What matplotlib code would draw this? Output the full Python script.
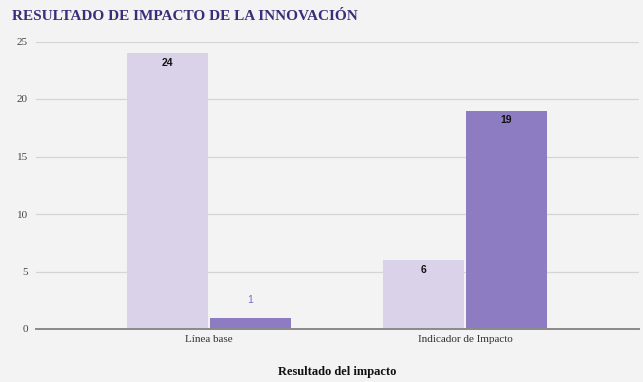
import matplotlib
matplotlib.use("Agg")
import matplotlib.pyplot as plt
import numpy as np

# data
CATEGORIES = ["Línea base", "Indicador de Impacto"]
SERIES_A = [24, 6]    # light bars
SERIES_B = [1, 19]    # dark bars
Y_TICKS = [0, 5, 10, 15, 20, 25]

BG = "#f3f3f3"
LIGHT = "#d9d2e9"
DARK = "#8e7cc3"
TITLE_COLOR = "#3b2d7a"

fig = plt.figure(figsize=(6.43, 3.82), dpi=100, facecolor=BG)
ax = fig.add_axes([36 / 643, 1 - 329 / 382, 603 / 643, 287.5 / 382])
ax.set_facecolor(BG)

x = np.arange(len(CATEGORIES))
w = 0.316
gap = 0.004
bars_a = ax.bar(x - w / 2 - gap, SERIES_A, w, color=LIGHT, zorder=2)
bars_b = ax.bar(x + w / 2 + gap, SERIES_B, w, color=DARK, zorder=2)

ax.set_xlim(-0.676, 1.68)
ax.set_ylim(0, 25)
ax.set_yticks(Y_TICKS)
ax.set_xticks(x)
ax.set_xticklabels(CATEGORIES, family="Liberation Serif", fontsize=8, color="#333333")
for lab in ax.get_yticklabels():
    lab.set_family("Liberation Serif")
    lab.set_fontsize(8)
    lab.set_color("#444444")
ax.tick_params(length=0, pad=4)
ax.tick_params(axis="y", pad=6)

ax.grid(axis="y", color="#d4d4d4", linewidth=0.9, zorder=0)
for side in ("top", "right", "left"):
    ax.spines[side].set_visible(False)
ax.spines["bottom"].set_color("#8a8a8a")
ax.spines["bottom"].set_linewidth(1.4)
ax.spines["bottom"].set_zorder(3)

# value labels
for bars, vals in ((bars_a, SERIES_A), (bars_b, SERIES_B)):
    for b, v in zip(bars, vals):
        cx = b.get_x() + b.get_width() / 2
        if v >= 3:
            ax.text(cx, v - 0.85, str(v), ha="center", va="center",
                    family="Liberation Sans", fontweight="bold", fontsize=7.5,
                    color="#111111", zorder=4)
        else:
            ax.text(cx, v + 1.5, str(v), ha="center", va="center",
                    family="Liberation Sans", fontsize=7.5, color="#7a6cc0", zorder=4)

fig.text(12 / 643, 1 - 17 / 382, "RESULTADO DE IMPACTO DE LA INNOVACIÓN",
         family="Liberation Serif", fontweight="bold", fontsize=11,
         color=TITLE_COLOR, ha="left", va="center")
fig.text(337 / 643, 1 - 372 / 382, "Resultado del impacto",
         family="Liberation Serif", fontweight="bold", fontsize=9,
         color="#111111", ha="center", va="center")

fig.savefig("out.png", dpi=100, facecolor=BG)
